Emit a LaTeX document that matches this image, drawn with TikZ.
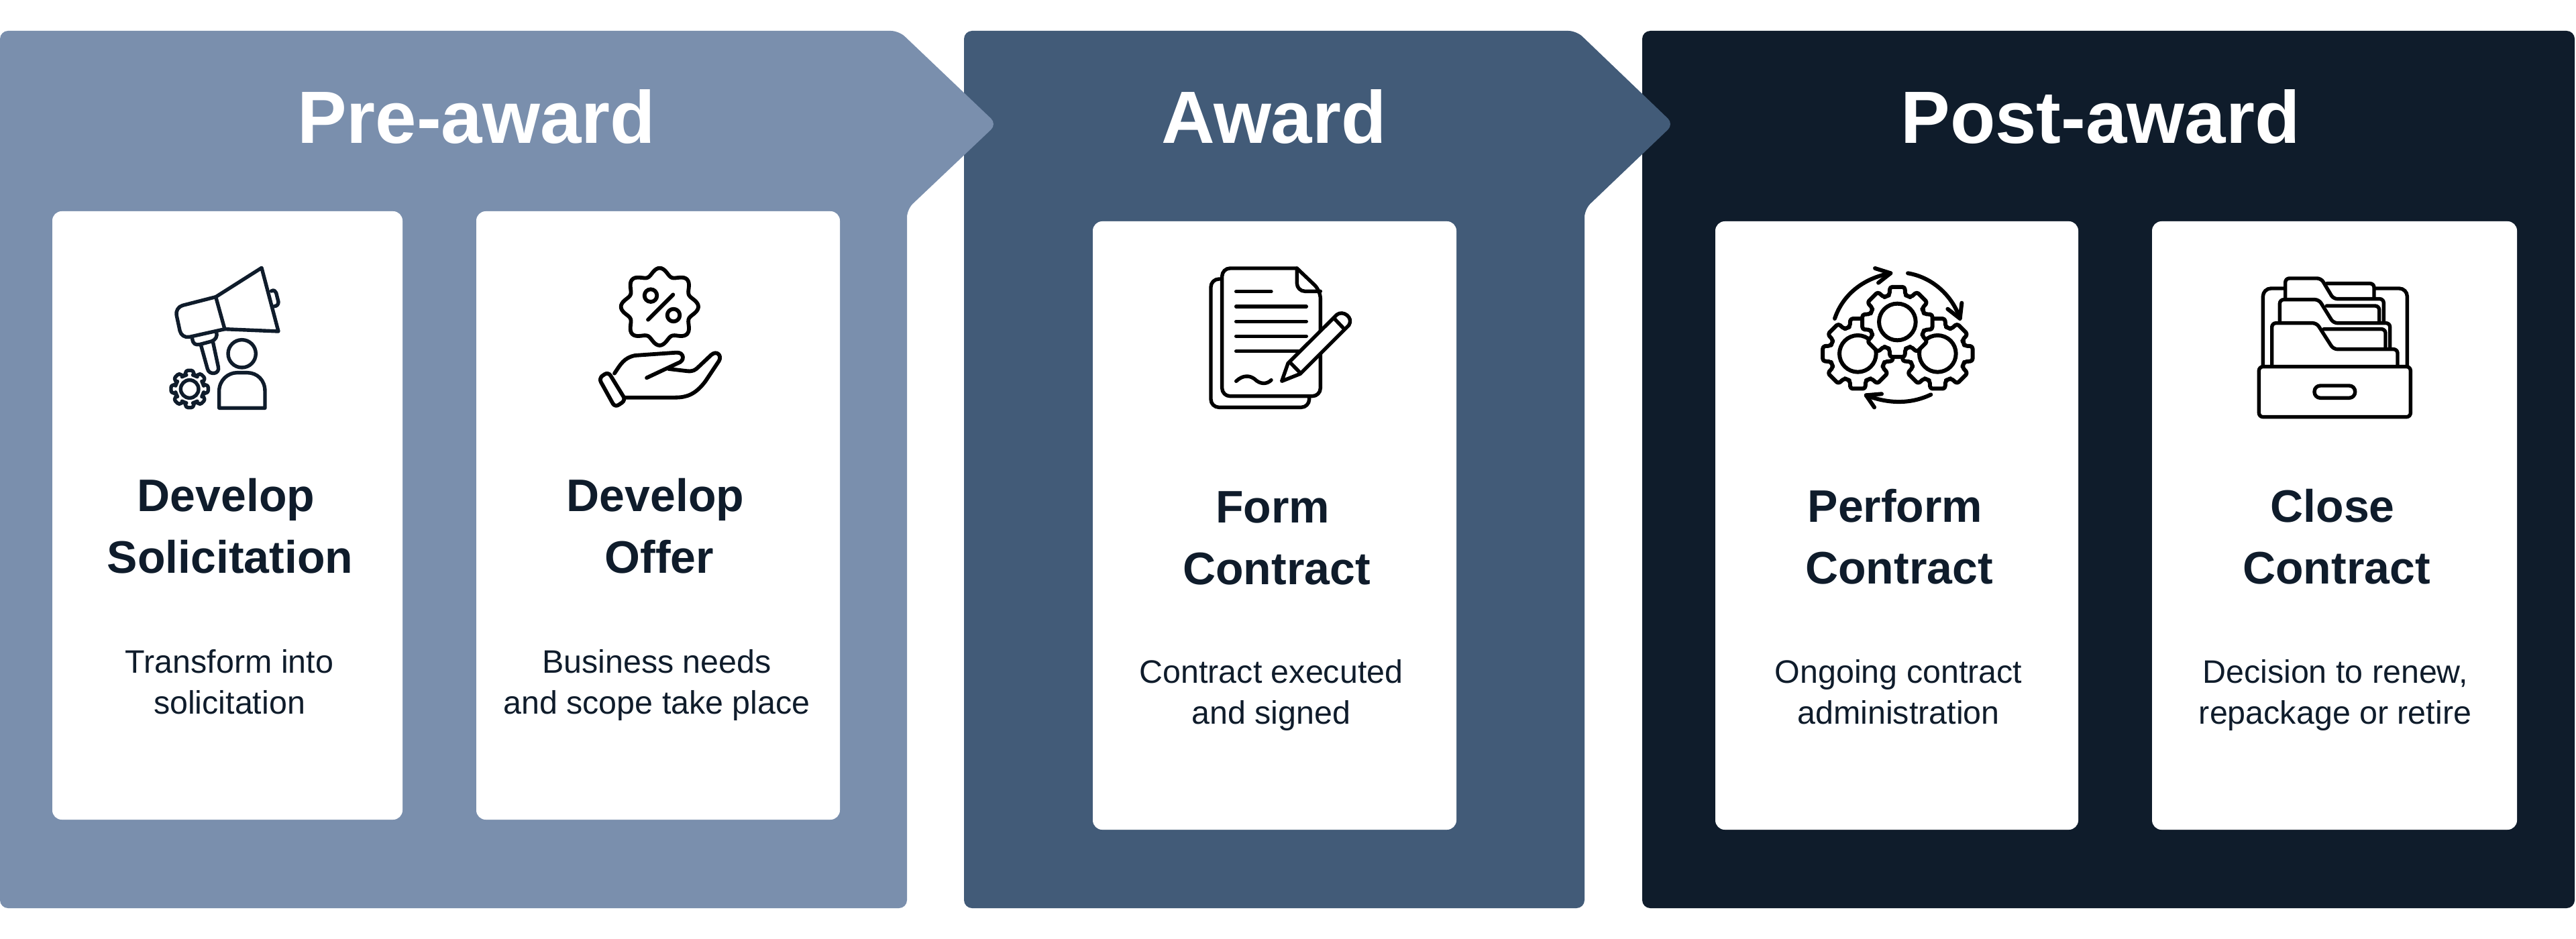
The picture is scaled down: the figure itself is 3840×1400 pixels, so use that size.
\documentclass[tikz,border=0pt]{standalone}
\usepackage{fontspec}
\setmainfont{Liberation Sans}
\definecolor{preC}{HTML}{7A8FAD}
\definecolor{awdC}{HTML}{425B78}
\definecolor{postC}{HTML}{0F1C2B}
\tikzset{
  phase/.style={rounded corners=3pt},
  card/.style={fill=white,rounded corners=3.5pt},
  head/.style={anchor=base,text=white,font=\fontsize{27.6}{32}\selectfont\bfseries,inner sep=0pt},
  ttl/.style={anchor=center,align=center,text=postC,font=\fontsize{17}{23}\selectfont\bfseries,inner sep=0pt},
  bdy/.style={anchor=center,align=center,text=postC,font=\fontsize{12.1}{15.25}\selectfont,inner sep=0pt},
  ico/.style={line width=1.35pt,line cap=round,line join=round},
  navy/.style={draw=postC},
  blk/.style={draw=black},
  iconat/.style={shift={(#1)},x=.083333pt,y=-.083333pt},
}
% cx cy Rout Rroot Rcircle
\newcommand{\gearshape}[5]{%
  \draw[fill=white,rounded corners=.9pt,shift={(#1,#2)}]
    (-22.5+0:#4)
    \foreach \a in {0,45,...,315}{
      -- ({\a-22.5+6}:#4) -- ({\a-12}:#3) -- ({\a+12}:#3) -- ({\a+22.5-6}:#4) -- ({\a+22.5}:#4)
    } -- cycle;
  \draw[shift={(#1,#2)}] (0,0) circle[radius=#5];
}
\begin{document}
\begin{tikzpicture}[x=.25pt,y=-.25pt]
\useasboundingbox (0,0) rectangle (3840,1400);
% phases
\fill[postC,phase] (2448,46) -- (3838,46) -- (3838,1354) -- (2448,1354) -- cycle;
\fill[awdC,phase] (1437,700) -- (1437,46) -- (2350,46) -- (2495,185) -- (2362,312) -- (2362,1354) -- (1437,1354) -- cycle;
\fill[preC,phase] (0,700) -- (0,46) -- (1340,46) -- (1486,185) -- (1352,312) -- (1352,1354) -- (0,1354) -- cycle;
% cards
\fill[card] (78,315) rectangle (600,1222);
\fill[card] (710,315) rectangle (1252,1222);
\fill[card] (1629,330) rectangle (2171,1237);
\fill[card] (2557,330) rectangle (3098,1237);
\fill[card] (3208,330) rectangle (3752,1237);
% headings
\node[head] (hpre) at (710,214) {Pre-award};
\node[head] (hawd) at (1899,214) {Award};
\node[head] (hpost) at (3131,214) {Post-award};
% titles
\node[ttl] (t1) at (343,784) {Develop\kern3pt\\Solicitation};
\node[ttl] (t2) at (983,784) {Develop\kern3pt\\Offer};
\node[ttl] (t3) at (1903,802) {Form\kern3pt\\Contract};
\node[ttl] (t4) at (2831,800) {Perform\kern3pt\\Contract};
\node[ttl] (t5) at (3483,800) {Close\kern3pt\\Contract};
% bodies
\node[bdy] (b1) at (342,1017) {Transform into\\solicitation};
\node[bdy] (b2) at (979,1021) {Business needs\\and scope take place};
\node[bdy] (b3) at (1895,1036) {Contract executed\\and signed};
\node[bdy] (b4) at (2830,1032) {Ongoing contract\\administration};
\node[bdy] (b5) at (3481,1036) {Decision to renew,\\repackage or retire};
% icon 1: megaphone
\begin{scope}[iconat={220,370},ico,navy]
  \draw (510,88) -- (585,372) -- (345,362) -- (305,218) -- cycle;
  \draw[rounded corners=3pt] (305,218) -- (122,265) -- (152,405) -- (345,362);
  \draw (200,405) .. controls (203,430) and (215,433) .. (232,431) -- (285,417) .. controls (305,410) and (313,395) .. (308,375);
  \draw (238,432) -- (268,540) .. controls (275,570) and (325,565) .. (316,530) -- (292,418);
  \draw (553,192) .. controls (565,185) and (572,192) .. (575,200) -- (585,240) .. controls (586,252) and (577,260) .. (566,260);
  \draw (422,472) circle[radius=62];
  \draw (320,715) -- (320,640) .. controls (320,590) and (360,557) .. (400,557) -- (445,557) .. controls (490,557) and (525,590) .. (525,640) -- (525,715) -- cycle;
  \gearshape{188}{630}{85}{64}{40}
\end{scope}
% icon 2: hand and badge
\begin{scope}[iconat={860,370},ico,blk,line width=1.45pt]
  \draw[shift={(370,262)}] plot[domain=0:360,samples=145,smooth] (\x:{157+16*cos(8*\x)}) -- cycle;
  \draw (330,212) circle[radius=28];
  \draw (432,300) circle[radius=28];
  \draw (430,208) -- (318,320);
  \draw (168,560) .. controls (195,520) and (210,490) .. (260,480) -- (445,467) .. controls (480,465) and (485,505) .. (450,515) -- (312,580);
  \draw (410,540) -- (495,550) .. controls (520,552) and (530,545) .. (545,530) -- (600,478) .. controls (625,455) and (650,480) .. (635,505) -- (575,595) .. controls (530,655) and (490,668) .. (440,668) -- (215,668);
  \draw[rounded corners=1.6pt] (140,553) -- (98,582) -- (170,712) -- (218,680) -- cycle;
\end{scope}
% icon 3: document and pencil
\begin{scope}[iconat={1770,370},ico,blk]
  \draw[rounded corners=3pt] (150,138) -- (105,138) -- (105,712) -- (545,712) -- (545,665);
  \draw[rounded corners=3pt] (490,90) -- (155,90) -- (155,662) -- (595,662) -- (595,190) [sharp corners] -- (490,90);
  \draw[rounded corners=3pt] (490,90) -- (490,193) -- (595,193);
  \draw (218,194) -- (375,194) (218,261) -- (532,261) (218,328) -- (532,328) (218,394) -- (532,394) (218,461) -- (505,461);
  \draw (218,595) .. controls (250,565) and (280,570) .. (300,585) .. controls (325,610) and (355,610) .. (375,590);
  \draw[fill=white] (422,595) -- (450,515) -- (668,298) .. controls (695,275) and (745,310) .. (722,345) -- (505,562) -- cycle;
  \draw (458,510) -- (505,558) (660,318) -- (698,358);
\end{scope}
% icon 4: gears and arrows
\begin{scope}[iconat={2690,380},ico,blk,line width=1.5pt]
  \gearshape{238}{442}{160}{125}{82}
  \gearshape{595}{442}{160}{125}{82}
  \gearshape{415}{300}{160}{125}{82}
  \draw (135,285) .. controls (170,180) and (260,105) .. (385,82);
  \draw (315,60) -- (385,82) -- (330,125);
  \draw (462,82) .. controls (570,100) and (660,180) .. (695,285);
  \draw (703,215) -- (695,285) -- (640,242);
  \draw (565,625) .. controls (470,670) and (370,665) .. (275,628);
  \draw (345,622) -- (275,628) -- (312,682);
\end{scope}
% icon 5: drawer
\begin{scope}[iconat={3340,380},ico,blk,rounded corners=1.5pt]
  \draw[rounded corners=3pt] (195,150) -- (100,150) -- (100,495);
  \draw[rounded corners=3pt] (600,150) -- (745,150) -- (745,495);
  \draw (385,128) -- (597,128) -- (597,190);
  \draw (200,190) -- (200,105) -- (360,105) -- (415,197) -- (640,197) -- (640,300);
  \draw (385,228) -- (620,228) -- (620,298);
  \draw (175,295) -- (175,200) -- (350,200) -- (415,305) -- (668,305) -- (668,415);
  \draw (372,332) -- (648,332) -- (648,415);
  \draw (140,495) -- (140,305) -- (340,305) -- (415,422) -- (702,422) -- (702,495);
  \draw (82,500) rectangle (760,725);
  \draw[rounded corners=2.2pt] (330,585) rectangle (512,640);
\end{scope}
\end{tikzpicture}
\end{document}
